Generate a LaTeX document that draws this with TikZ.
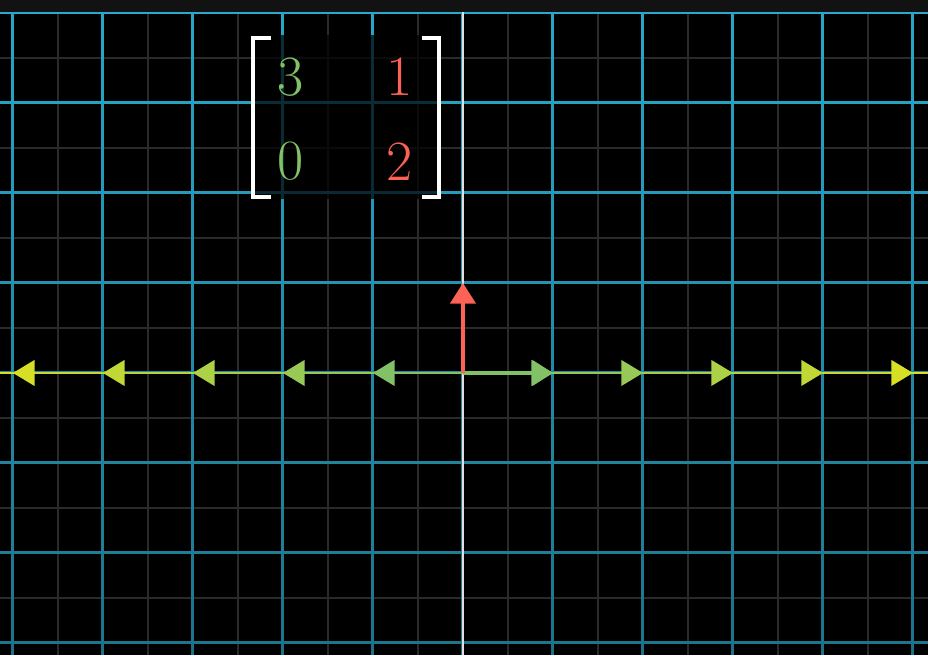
\documentclass[tikz,border=0pt]{standalone}
\usetikzlibrary{arrows.meta}

\definecolor{gridblue}{HTML}{29A9CC}
\definecolor{faintgray}{HTML}{2A2A2A}
\definecolor{topbar}{HTML}{121212}
\definecolor{xgreen}{HTML}{83C167}
\definecolor{xyellow}{HTML}{D6DF25}
\definecolor{vred}{HTML}{FC6255}

\tikzstyle{faint} = [draw=faintgray, line width=0.35pt]
\tikzstyle{gridline} = [line width=0.95pt]
\tikzstyle{axis} = [line width=0.75pt]
\tikzstyle{vector} = [line width=1.3pt, -{Triangle[length=0.23cm,width=0.28cm]}]
\tikzstyle{entry} = [font=\fontsize{18}{20}\selectfont, inner sep=0pt]
\tikzstyle{bracket} = [draw=white, line width=1.3pt]

\begin{document}
\begin{tikzpicture}[x=1cm, y=1cm]
			
			\useasboundingbox (-5.144,-3.133) rectangle (5.167,4.144);
			\fill[black] (-5.144,-3.133) rectangle (5.167,4.144);
			
			% faint half lines
			\foreach \x in {-4.5,-3.5,...,4.5}
				\draw[faint] (\x,-3.133) -- (\x,4.144);
			\foreach \y in {-2.5,-1.5,...,3.5}
				\draw[faint] (-5.144,\y) -- (5.167,\y);
			
			% blue grid, a little darker towards the bottom
			\foreach \y in {-3,...,4} {
				\pgfmathtruncatemacro{\p}{100-(4-\y)*4.3}
				\draw[gridline, gridblue!\p!black] (-5.144,\y) -- (5.167,\y);
			}
			\foreach \x in {-5,...,5}
				\foreach \y in {-3.5,-3,...,4} {
					\pgfmathtruncatemacro{\p}{100-(4-\y)*4.3}
					\draw[gridline, gridblue!\p!black] (\x,\y) -- (\x,\y+0.5);
				}
			
			% axes
			\draw[axis, white!88!black] (0,-3.133) -- (0,4.144);
			\foreach \k in {0,...,5} {
				\pgfmathtruncatemacro{\p}{\k*20}
				\draw[axis, xyellow!\p!xgreen] (\k,0) -- (\k+1,0);
				\draw[axis, xyellow!\p!xgreen] (-\k,0) -- (-\k-1,0);
			}
			\foreach \k in {1,...,5} {
				\pgfmathtruncatemacro{\p}{(\k-1)*25}
				\fill[xyellow!\p!xgreen] (\k,0) -- ++(-0.24,0.145) -- ++(0,-0.29) -- cycle;
				\fill[xyellow!\p!xgreen] (-\k,0) -- ++(0.24,0.145) -- ++(0,-0.29) -- cycle;
			}
			
			% basis vectors
			\coordinate (origin) at (0,0);
			\coordinate (ihat) at (1,0);
			\coordinate (jhat) at (0,1);
			\draw[vector, xgreen] (origin) -- (ihat);
			\draw[vector, vred] (origin) -- (jhat);
			
			% matrix
			\fill[black, opacity=0.72] (-2.33,1.93) rectangle (-0.256,3.75);
			\draw[bracket] (-2.13,3.719) -- (-2.33,3.719) -- (-2.33,1.959) -- (-2.13,1.959);
			\draw[bracket] (-0.46,3.719) -- (-0.263,3.719) -- (-0.263,1.959) -- (-0.46,1.959);
			\node (a) [entry, text=xgreen] at (-1.911,3.29) {3};
			\node (b) [entry, text=vred] at (-0.70,3.29) {1};
			\node (c) [entry, text=xgreen] at (-1.911,2.35) {0};
			\node (d) [entry, text=vred] at (-0.70,2.35) {2};
			
			% top bar
			\fill[topbar] (-5.144,4.01) rectangle (5.167,4.144);
			
		\end{tikzpicture}
\end{document}
